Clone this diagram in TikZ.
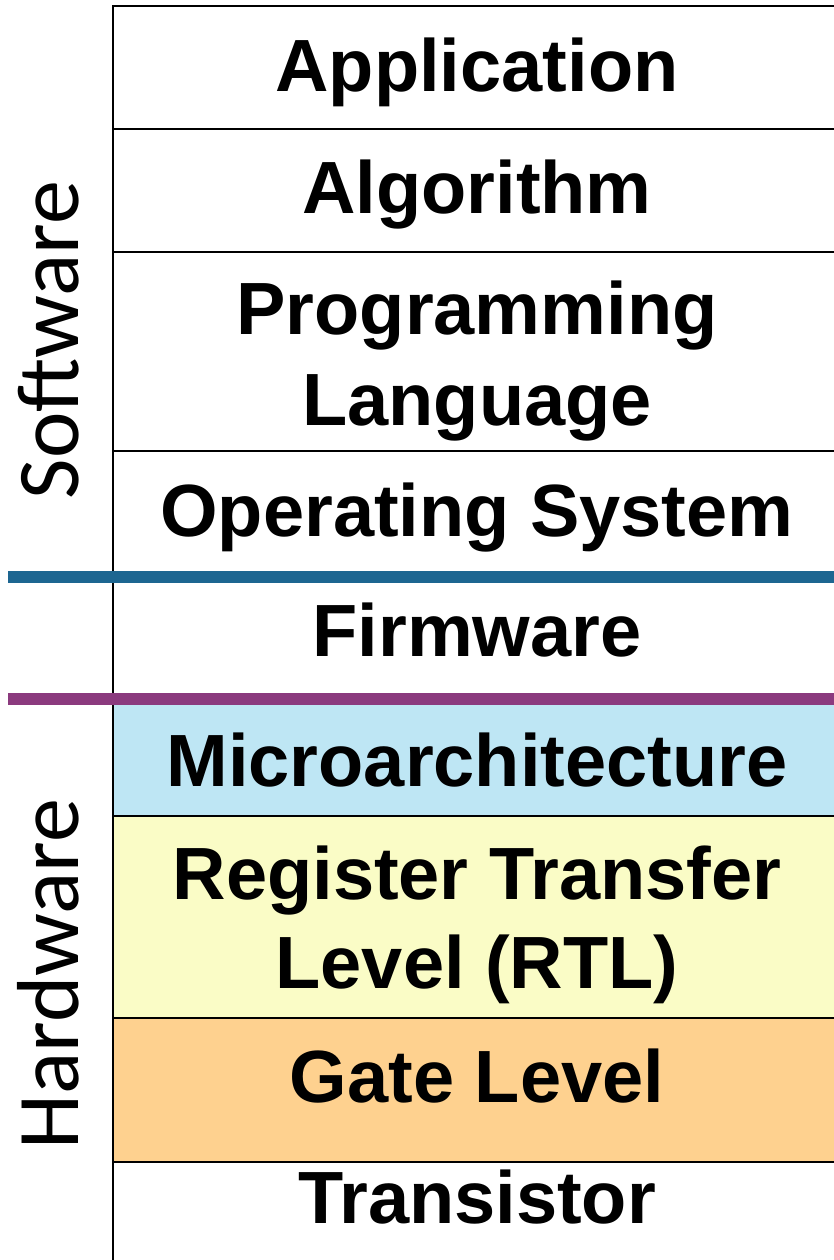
\documentclass[tikz,border=0pt]{standalone}
\usepackage{fontspec}
\setmainfont{Liberation Sans}
\newfontfamily\sidefont{Carlito}
\definecolor{swblue}{HTML}{1D6691}
\definecolor{hwpurple}{HTML}{8B3A7E}
\definecolor{microfill}{HTML}{BEE6F4}
\definecolor{rtlfill}{HTML}{FAFCC6}
\definecolor{gatefill}{HTML}{FED18F}
\tikzset{
	layer/.style={anchor=base, inner sep=0pt, font=\fontsize{37}{43.5}\selectfont\bfseries},
	side/.style={anchor=base, rotate=90, inner sep=0pt, font=\sidefont\fontsize{44}{50}\selectfont},
	rowline/.style={line width=1.1pt},
	split/.style={line width=6pt},
}

\begin{document}
\begin{tikzpicture}[x=0.5pt, y=-0.5pt]
		%%%%% START %%%%%
		\useasboundingbox (0, 0) rectangle (834, 1260);
		
		\fill[microfill] (113, 699) rectangle (900, 816);
		\fill[rtlfill] (113, 816) rectangle (900, 1018);
		\fill[gatefill] (113, 1018) rectangle (900, 1162);
		
		\draw[rowline] (113, 1270) -- (113, 6) -- (900, 6);
		\draw[rowline] (113, 129) -- (900, 129);
		\draw[rowline] (113, 252) -- (900, 252);
		\draw[rowline] (113, 451) -- (900, 451);
		\draw[rowline] (113, 816) -- (900, 816);
		\draw[rowline] (113, 1018) -- (900, 1018);
		\draw[rowline] (113, 1162) -- (900, 1162);
		
		\draw[split, color=swblue] (8, 577) -- (900, 577);
		\draw[split, color=hwpurple] (8, 699) -- (900, 699);
		
		\node[layer] (app) at (477, 91) {Application};
		\node[layer] (algo) at (477, 213) {Algorithm};
		\node[layer] (prog) at (477, 334) {Programming};
		\node[layer] (lang) at (477, 425) {Language};
		\node[layer] (os) at (477, 536) {Operating System};
		\node[layer] (firm) at (477, 656) {Firmware};
		\node[layer] (micro) at (477, 786) {Microarchitecture};
		\node[layer] (rtl) at (477, 899) {Register Transfer};
		\node[layer] (rtllvl) at (477, 988) {Level (RTL)};
		\node[layer] (gate) at (477, 1102) {Gate Level};
		\node[layer] (trans) at (477, 1223) {Transistor};
		
		\node[side] (sw) at (78, 340) {Software};
		\node[side] (hw) at (78, 974) {Hardware};
		
		%%%%% END %%%%%
	\end{tikzpicture}
\end{document}
